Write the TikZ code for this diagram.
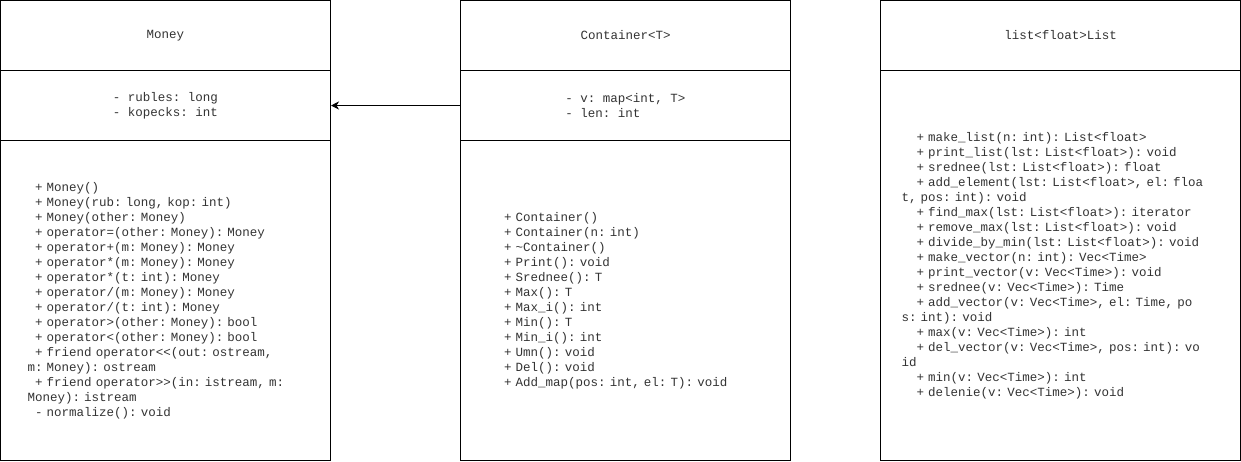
\documentclass[tikz,border=0pt]{standalone}
\usepackage{fontspec}
\newfontfamily\umlfont{Liberation Mono}
\usetikzlibrary{positioning}
\usetikzlibrary{arrows.meta}
\newcommand{\umlsp}{\hspace*{0.6em}}

\begin{document}
\begin{tikzpicture}[x=1pt,y=-1pt]

\tikzset{
  compart/.style={draw, line width=1pt, inner sep=0pt,
    font=\umlfont\fontsize{12.5}{15}\selectfont\frenchspacing, text=black!80},
  opsbox/.style={compart, align=left},
  assoc/.style={line width=1pt, -{Stealth[length=8pt,width=8pt,inset=2.5pt]}}
}

\useasboundingbox (0,0) rectangle (1241,461);

% Money
\node[compart, minimum width=330pt, minimum height=70pt] (moneyName) at (165.5,35.5) {Money};
\node[compart, minimum width=330pt, minimum height=70pt, align=left] (moneyAttr) at (165.5,105.5)
  {- rubles: long\\- kopecks: int};
\node[opsbox, minimum height=320pt, text width=276pt, inner xsep=27pt] (moneyOps) at (165.5,300.5)
  {\umlsp+ Money()\\
   \umlsp+ Money(rub: long, kop: int)\\
   \umlsp+ Money(other: Money)\\
   \umlsp+ operator=(other: Money): Money\\
   \umlsp+ operator+(m: Money): Money\\
   \umlsp+ operator*(m: Money): Money\\
   \umlsp+ operator*(t: int): Money\\
   \umlsp+ operator/(m: Money): Money\\
   \umlsp+ operator/(t: int): Money\\
   \umlsp+ operator>(other: Money): bool\\
   \umlsp+ operator<(other: Money): bool\\
   \umlsp+ friend operator<{}<(out: ostream,\\
   m: Money): ostream\\
   \umlsp+ friend operator>{}>(in: istream, m:\\
   Money): istream\\
   \umlsp- normalize(): void};

% Container<T>
\node[compart, minimum width=330pt, minimum height=70pt] (contName) at (625.5,35.5) {Container<T>};
\node[compart, minimum width=330pt, minimum height=70pt, align=left] (contAttr) at (625.5,105.5)
  {- v: map<int, T>\\- len: int};
\node[opsbox, minimum height=320pt, text width=258pt, inner xsep=36pt] (contOps) at (625.5,300.5)
  {\umlsp+ Container()\\
   \umlsp+ Container(n: int)\\
   \umlsp+ \textasciitilde Container()\\
   \umlsp+ Print(): void\\
   \umlsp+ Srednee(): T\\
   \umlsp+ Max(): T\\
   \umlsp+ Max\_i(): int\\
   \umlsp+ Min(): T\\
   \umlsp+ Min\_i(): int\\
   \umlsp+ Umn(): void\\
   \umlsp+ Del(): void\\
   \umlsp+ Add\_map(pos: int, el: T): void};

% list<float>List
\node[compart, minimum width=360pt, minimum height=70pt] (listName) at (1060.5,35.5) {list<float>List};
\node[opsbox, minimum height=390pt, text width=318pt, inner xsep=21pt] (listOps) at (1060.5,265.5)
  {\umlsp\umlsp+ make\_list(n: int): List<float>\\
   \umlsp\umlsp+ print\_list(lst: List<float>): void\\
   \umlsp\umlsp+ srednee(lst: List<float>): float\\
   \umlsp\umlsp+ add\_element(lst: List<float>, el: floa\\
   t, pos: int): void\\
   \umlsp\umlsp+ find\_max(lst: List<float>): iterator\\
   \umlsp\umlsp+ remove\_max(lst: List<float>): void\\
   \umlsp\umlsp+ divide\_by\_min(lst: List<float>): void\\
   \umlsp\umlsp+ make\_vector(n: int): Vec<Time>\\
   \umlsp\umlsp+ print\_vector(v: Vec<Time>): void\\
   \umlsp\umlsp+ srednee(v: Vec<Time>): Time\\
   \umlsp\umlsp+ add\_vector(v: Vec<Time>, el: Time, po\\
   s: int): void\\
   \umlsp\umlsp+ max(v: Vec<Time>): int\\
   \umlsp\umlsp+ del\_vector(v: Vec<Time>, pos: int): vo\\
   id\\
   \umlsp\umlsp+ min(v: Vec<Time>): int\\
   \umlsp\umlsp+ delenie(v: Vec<Time>): void};

\draw[assoc] (contAttr.west) -- (moneyAttr.east);

\end{tikzpicture}
\end{document}
